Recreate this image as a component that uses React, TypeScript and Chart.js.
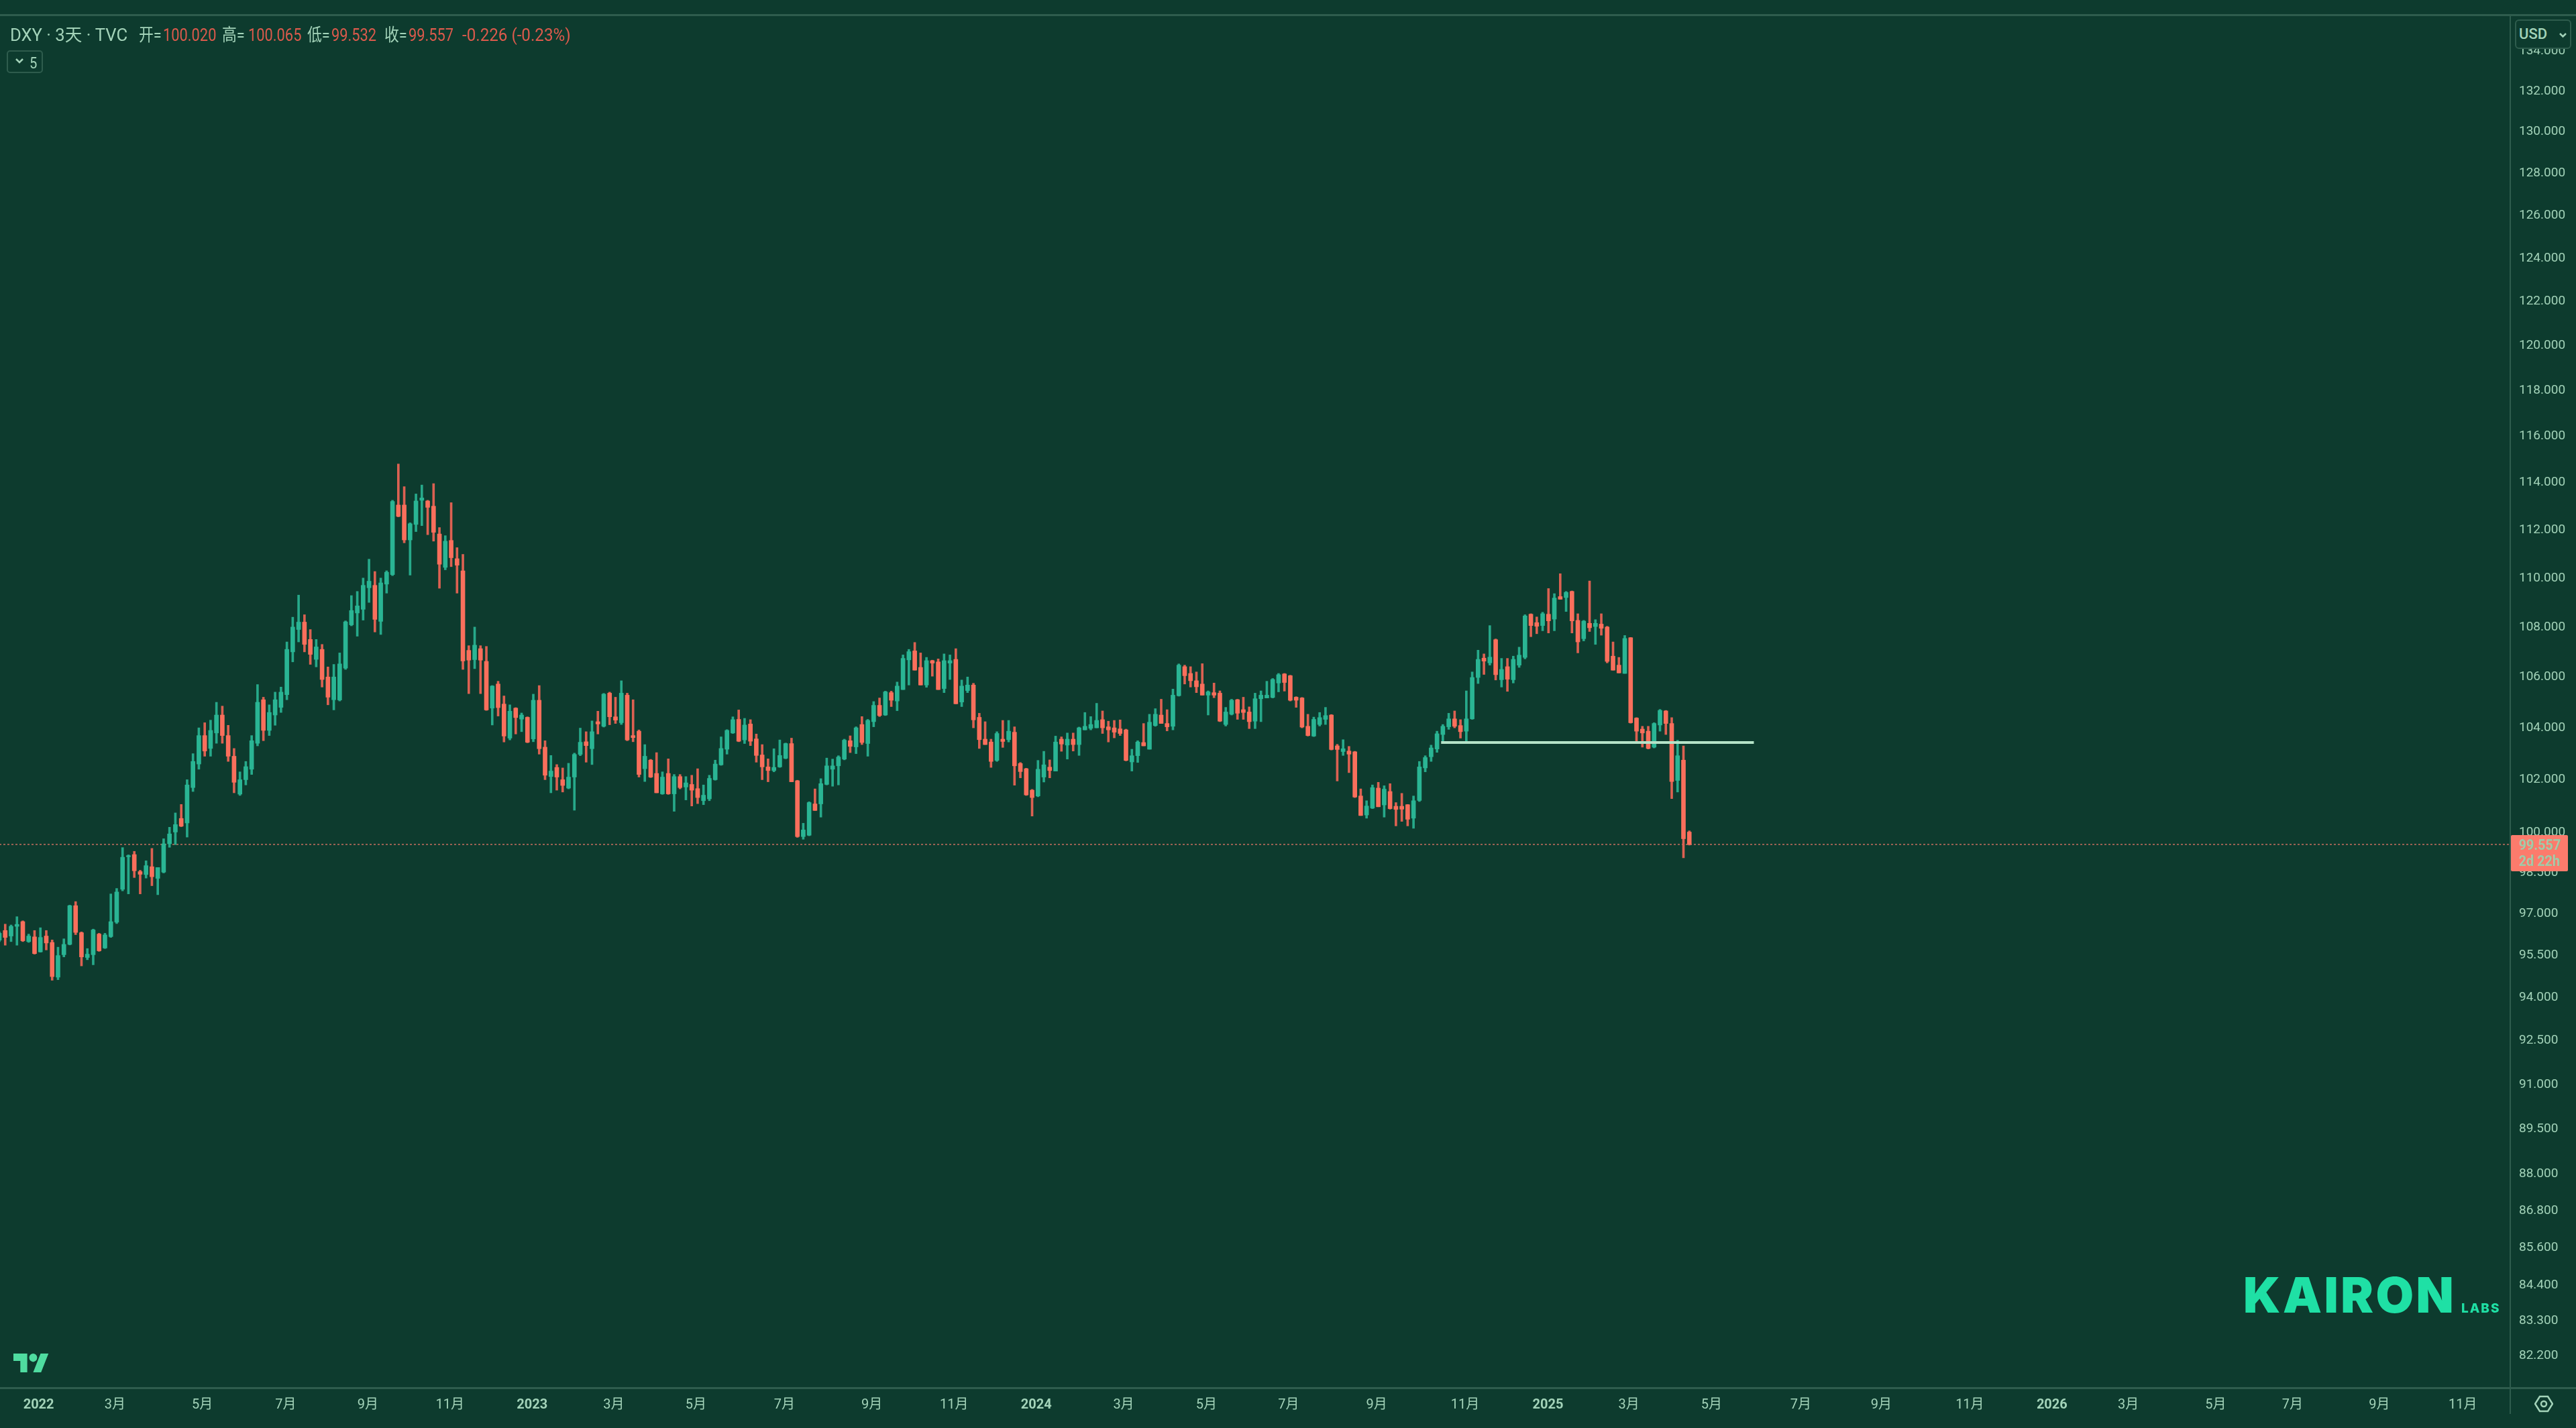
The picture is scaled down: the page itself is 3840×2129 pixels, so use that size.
import { useEffect, useRef } from 'react';
import Chart from 'chart.js/auto';

// 3D DXY candles, one entry per bar
const opens = [
  96.05, 96.4, 96.2, 96.55, 96.72, 96.0, 96.17, 95.63, 96.2, 95.97,
  94.73, 95.53, 95.9, 97.3, 96.32, 95.43, 95.53, 96.27, 95.77, 96.18,
  96.7, 97.9, 99.1, 99.18, 98.55, 98.44, 98.73, 98.3, 98.53, 99.58,
  100.02, 100.53, 100.36, 101.7, 102.6, 103.7, 103.2, 103.8, 104.5, 103.7,
  102.9, 101.45, 102.0, 102.4, 103.4, 105.1, 103.9, 104.5, 104.8, 105.3,
  107.0, 107.9, 108.2, 107.5, 106.7, 107.1, 106.0, 105.1, 105.09, 106.35,
  108.09, 108.57, 108.72, 109.6, 109.7, 108.23, 109.75, 110.14, 113.05, 113.05,
  111.58, 112.23, 113.25, 113.22, 113.0, 111.83, 110.44, 111.56, 110.8, 110.3,
  107.06, 106.69, 107.13, 106.62, 104.77, 105.72, 104.93, 103.6, 104.77, 104.34,
  104.41, 103.57, 105.08, 103.25, 102.12, 102.47, 102.0, 101.68, 102.1, 102.97,
  103.46, 103.19, 104.24, 104.06, 105.36, 104.43, 104.2, 105.28, 103.7, 103.87,
  102.42, 102.75, 102.24, 101.46, 102.24, 101.46, 102.12, 101.72, 101.82, 101.66,
  101.2, 101.27, 102.0, 102.57, 103.17, 103.8, 104.33, 103.53, 104.15, 103.57,
  102.95, 102.49, 102.35, 102.49, 102.82, 103.39, 101.96, 99.85, 99.9, 101.08,
  101.08, 101.82, 102.4, 102.53, 102.79, 103.5, 103.26, 104.13, 103.39, 104.24,
  104.88, 104.5, 105.38, 105.05, 105.5, 106.68, 107.04, 106.38, 105.68, 106.65,
  106.6, 105.54, 106.55, 106.7, 105.01, 105.46, 105.68, 104.41, 103.56, 103.45,
  102.74, 103.56, 103.54, 103.83, 102.62, 102.42, 101.6, 101.38, 102.1, 102.48,
  102.33, 103.56, 103.33, 103.56, 103.35, 103.92, 103.98, 104.0, 104.32, 104.04,
  104.0, 103.96, 103.92, 102.68, 102.92, 103.43, 103.17, 104.09, 104.5, 104.17,
  104.06, 105.26, 106.41, 106.14, 105.85, 105.72, 105.28, 105.38, 105.36, 104.13,
  104.53, 105.1, 104.71, 104.62, 104.26, 105.14, 105.17, 105.19, 105.76, 106.12,
  106.05, 105.2, 105.17, 104.06, 103.68, 104.13, 104.33, 104.5, 103.3, 103.08,
  103.1, 103.07, 101.38, 100.66, 100.92, 101.68, 101.04, 101.55, 100.99, 100.99,
  101.05, 100.54, 101.21, 102.45, 102.88, 103.18, 103.74, 104.04, 104.35, 104.09,
  103.87, 104.35, 105.98, 106.75, 106.56, 107.49, 105.89, 106.41, 105.89, 106.47,
  106.78, 108.52, 108.18, 108.06, 108.52, 108.32, 109.24, 109.2, 109.45, 108.27,
  107.53, 108.15, 108.02, 108.12, 108.0, 106.83, 106.47, 106.14, 107.57, 104.38,
  103.95, 103.87, 103.25, 104.11, 104.66, 104.17, 101.97, 102.75, 100.02,
];
const highs = [
  96.35, 96.63, 96.6, 96.9, 96.75, 96.27, 96.4, 96.5, 96.4, 96.06,
  95.8, 96.1, 97.32, 97.45, 96.35, 95.75, 96.45, 96.3, 96.3, 97.73,
  97.93, 99.44, 99.17, 99.3, 98.6, 98.95, 99.41, 98.7, 99.77, 100.2,
  100.74, 101.06, 102.0, 103.0, 104.0, 104.2, 104.3, 105.0, 104.85, 104.1,
  103.2, 102.3, 102.7, 103.7, 105.7, 105.2, 104.9, 105.4, 105.6, 107.4,
  108.4, 109.3, 108.5, 107.9, 107.5, 107.3, 106.4, 106.5, 106.96, 108.25,
  109.28, 109.45, 110.0, 110.78, 110.27, 110.0, 110.3, 113.25, 114.8, 113.83,
  112.3, 113.52, 113.9, 113.25, 113.96, 112.1, 111.76, 113.15, 111.26, 110.98,
  107.25, 108.0, 107.25, 107.22, 105.66, 105.83, 105.25, 104.9, 104.79, 104.58,
  104.43, 105.32, 105.66, 103.5, 102.93, 102.58, 102.45, 102.63, 103.02, 103.99,
  103.85, 104.27, 104.65, 105.35, 105.4, 105.2, 105.85, 105.36, 105.1, 103.92,
  103.35, 102.78, 103.04, 102.3, 102.8, 102.2, 102.2, 102.12, 102.17, 102.42,
  101.8, 102.17, 102.75, 103.65, 103.93, 104.43, 104.7, 104.37, 104.32, 103.76,
  103.35, 102.8, 103.19, 103.53, 103.41, 103.6, 101.98, 100.35, 101.16, 101.65,
  102.04, 102.83, 102.79, 102.92, 103.56, 103.69, 104.04, 104.44, 104.33, 105.03,
  105.17, 105.44, 105.44, 105.8, 106.88, 107.1, 107.38, 106.96, 106.78, 106.67,
  106.72, 106.92, 106.88, 107.13, 105.88, 106.0, 105.75, 104.57, 104.24, 103.56,
  103.85, 104.29, 104.29, 104.04, 102.66, 102.44, 101.63, 102.74, 103.09, 102.76,
  103.68, 103.65, 103.8, 103.8, 104.03, 104.6, 104.44, 104.96, 104.66, 104.26,
  104.29, 104.31, 103.95, 103.17, 103.5, 104.17, 104.53, 104.75, 105.12, 104.71,
  105.52, 106.52, 106.47, 106.41, 106.2, 106.53, 105.45, 105.76, 105.45, 104.8,
  105.12, 105.12, 105.2, 104.82, 105.36, 105.45, 105.83, 105.94, 106.14, 106.14,
  106.07, 105.22, 105.19, 104.53, 104.42, 104.6, 104.8, 104.52, 103.36, 103.54,
  103.28, 103.09, 101.65, 101.2, 101.8, 101.9, 101.77, 101.85, 101.13, 101.48,
  101.06, 101.38, 102.7, 102.92, 103.33, 103.87, 104.13, 104.57, 104.66, 104.32,
  105.45, 106.2, 107.07, 106.92, 108.06, 107.52, 106.74, 106.74, 106.83, 107.19,
  108.5, 108.54, 108.41, 108.6, 109.57, 109.36, 110.18, 109.45, 109.47, 108.54,
  108.27, 109.88, 108.3, 108.54, 108.03, 107.4, 106.78, 107.66, 107.58, 104.4,
  104.06, 104.06, 104.2, 104.72, 104.68, 104.4, 103.52, 103.3, 100.065,
];
const lows = [
  96.0, 95.87, 96.0, 95.87, 96.0, 95.97, 95.55, 95.62, 95.7, 94.62,
  94.64, 95.45, 95.88, 96.25, 95.13, 95.35, 95.17, 95.65, 95.75, 96.15,
  96.65, 97.84, 97.73, 98.33, 97.73, 98.31, 98.03, 97.7, 98.5, 99.45,
  99.55, 100.22, 99.83, 101.55, 102.4, 102.9, 102.9, 103.4, 103.4, 102.7,
  101.5, 101.4, 101.8, 102.2, 103.3, 103.5, 103.7, 104.1, 104.6, 105.1,
  106.6, 107.4, 107.0, 106.5, 106.4, 105.6, 104.9, 104.7, 105.05, 106.3,
  108.05, 107.63, 108.28, 109.0, 107.8, 107.7, 109.38, 110.1, 112.55, 111.46,
  110.12, 111.93, 112.18, 111.8, 111.53, 109.58, 110.34, 110.47, 109.38, 106.3,
  105.34, 106.33, 105.34, 104.68, 104.11, 104.46, 103.45, 103.53, 103.76, 103.85,
  103.42, 103.46, 102.98, 102.0, 101.5, 101.6, 101.53, 101.65, 100.84, 102.92,
  102.67, 102.58, 103.76, 104.03, 104.12, 104.17, 104.13, 103.5, 103.46, 102.1,
  101.93, 102.08, 101.5, 101.44, 101.44, 100.8, 101.65, 101.23, 101.0, 101.09,
  101.05, 101.2, 101.98, 102.55, 102.98, 103.78, 103.46, 103.39, 103.31, 102.67,
  102.0, 101.92, 102.3, 102.47, 102.8, 101.92, 99.82, 99.75, 99.88, 100.83,
  100.58, 101.8, 101.75, 101.8, 102.76, 103.04, 103.0, 103.35, 102.9, 104.04,
  104.44, 104.48, 104.83, 104.67, 105.5, 105.68, 106.27, 105.68, 105.59, 106.03,
  105.5, 105.38, 105.9, 104.94, 104.83, 105.38, 104.0, 103.2, 103.35, 102.47,
  102.7, 103.24, 103.45, 101.79, 102.07, 101.4, 100.62, 101.35, 101.91, 102.07,
  102.33, 103.09, 102.79, 103.1, 102.93, 103.92, 103.92, 104.0, 103.78, 103.45,
  103.61, 103.7, 102.72, 102.33, 102.66, 103.3, 103.17, 104.06, 104.17, 103.88,
  103.92, 105.24, 105.72, 105.6, 105.38, 105.28, 104.5, 105.18, 104.24, 104.07,
  104.5, 104.33, 104.33, 103.97, 103.97, 104.24, 105.17, 105.17, 105.41, 105.44,
  105.05, 104.8, 104.0, 103.68, 103.66, 104.07, 104.13, 103.14, 101.95, 102.93,
  102.27, 101.32, 100.64, 100.54, 100.9, 100.97, 100.58, 100.88, 100.25, 100.42,
  100.25, 100.16, 101.17, 102.3, 102.7, 103.05, 103.43, 103.94, 104.0, 103.6,
  103.4, 104.33, 105.74, 106.1, 106.47, 105.88, 105.6, 105.43, 105.76, 106.38,
  106.72, 107.61, 107.73, 107.85, 107.76, 107.85, 109.13, 108.63, 107.76, 106.96,
  107.44, 107.82, 107.3, 107.67, 106.56, 106.27, 106.16, 106.14, 104.18, 103.43,
  103.25, 103.18, 103.22, 103.87, 103.74, 101.28, 101.53, 99.06, 99.532,
];
const closes = [
  96.3, 96.15, 96.55, 96.62, 96.03, 96.2, 95.57, 96.15, 95.95, 94.75,
  95.5, 95.9, 97.3, 96.33, 95.45, 95.55, 96.42, 95.67, 96.24, 96.72,
  97.8, 99.08, 99.14, 98.58, 98.45, 98.77, 98.36, 98.7, 99.58, 99.95,
  100.3, 100.24, 101.8, 102.7, 103.7, 103.1, 103.9, 104.5, 103.7, 102.9,
  101.9, 102.0, 102.5, 103.5, 105.0, 103.9, 104.6, 105.1, 105.4, 107.1,
  108.0, 108.2, 107.3, 106.9, 107.2, 105.9, 105.2, 106.0, 106.52, 108.21,
  108.67, 108.86, 109.7, 109.87, 108.31, 109.8, 110.24, 113.2, 112.57, 111.58,
  112.26, 113.22, 113.35, 112.95, 111.9, 110.57, 111.53, 110.84, 110.53, 106.64,
  106.67, 107.27, 106.67, 104.7, 105.64, 104.79, 103.68, 104.65, 104.4, 104.5,
  103.44, 105.08, 103.19, 102.17, 102.33, 102.1, 101.78, 102.1, 102.97, 103.44,
  103.31, 103.85, 104.15, 105.32, 104.43, 104.3, 105.36, 103.53, 103.62, 102.2,
  102.9, 102.1, 101.5, 102.1, 101.46, 102.12, 101.7, 101.88, 101.6, 101.32,
  101.41, 102.05, 102.6, 103.2, 103.9, 104.32, 103.48, 104.11, 103.48, 102.93,
  102.49, 102.35, 102.47, 102.93, 103.39, 101.92, 99.85, 100.1, 101.13, 100.83,
  101.85, 102.53, 102.53, 102.87, 103.52, 103.28, 104.0, 103.43, 104.29, 104.88,
  104.48, 105.41, 105.08, 105.64, 106.74, 107.01, 106.27, 105.68, 106.65, 106.55,
  105.5, 106.65, 106.65, 104.94, 105.64, 105.68, 104.31, 103.54, 103.35, 102.7,
  103.78, 103.47, 103.87, 102.53, 102.31, 101.42, 101.32, 102.4, 102.57, 102.35,
  103.45, 103.37, 103.56, 103.35, 104.0, 104.06, 104.13, 104.29, 104.0, 103.92,
  103.83, 103.78, 102.74, 102.92, 103.45, 103.3, 104.22, 104.53, 104.17, 104.04,
  105.28, 106.47, 106.05, 105.85, 105.61, 105.28, 105.41, 105.28, 104.26, 104.62,
  105.08, 104.57, 104.6, 104.24, 105.14, 105.28, 105.28, 105.9, 106.09, 105.78,
  105.08, 105.08, 104.03, 103.7, 104.33, 104.4, 104.48, 103.16, 103.16, 103.19,
  102.98, 101.34, 100.64, 101.0, 101.7, 100.97, 101.64, 100.9, 100.87, 100.88,
  100.5, 101.2, 102.49, 102.85, 103.22, 103.77, 104.06, 104.35, 104.06, 103.85,
  104.35, 105.98, 106.7, 106.63, 106.79, 106.09, 106.3, 105.91, 106.7, 106.87,
  108.45, 108.06, 108.03, 108.54, 108.25, 109.18, 109.13, 109.41, 108.25, 107.4,
  108.24, 107.97, 108.15, 107.95, 106.62, 106.27, 106.16, 107.54, 104.2, 103.87,
  103.8, 103.2, 104.17, 104.68, 104.17, 101.93, 102.92, 99.77, 99.557,
];

const lastPrice = 99.557;
const levelPrice = 103.43;
const levelBars = [245.7, 299];

const priceTicks = [
  134, 132, 130, 128, 126, 124, 122, 120, 118, 116, 114, 112, 110, 108, 106, 104, 102, 100,
  98.5, 97, 95.5, 94, 92.5, 91, 89.5, 88, 86.8, 85.6, 84.4, 83.3, 82.2,
];
const timeTickBars = [
  6.7, 19.7, 34.6, 48.8, 62.8, 76.8, 90.8, 104.7, 118.7, 133.8, 148.7, 162.7, 176.7, 191.6, 205.7,
  219.7, 234.7, 249.8, 263.9, 277.7, 291.8, 307, 320.7, 335.8, 349.8, 362.8, 377.7, 390.8, 405.6, 419.8,
];
const timeTickLabels = [
  '2022', '3月', '5月', '7月', '9月', '11月', '2023', '3月', '5月', '7月', '9月', '11月', '2024', '3月', '5月',
  '7月', '9月', '11月', '2025', '3月', '5月', '7月', '9月', '11月', '2026', '3月', '5月', '7月', '9月', '11月',
];

const BG = '#0d3b2e';
const LINE = '#2e5c4d';
const TEXT = '#a3d3b9';
const RED = '#fa6f5c';
const RED_WICK = '#dc6152';
const GREEN = '#2ab594';
const GREEN_WICK = '#27a98a';
const SANS = 'Roboto, "Noto Sans CJK SC", sans-serif';

const framePlugin = {
  id: 'frame',
  beforeDraw(chart: any) {
    const { ctx, width, height } = chart;
    ctx.save();
    ctx.fillStyle = BG;
    ctx.fillRect(0, 0, width, height);
    ctx.fillStyle = LINE;
    ctx.fillRect(0, 21, width, 3);
    ctx.fillRect(0, 2068, width, 3);
    ctx.fillRect(3741, 22, 2, 2086);
    ctx.restore();
  },
};

const Txt = ({ x, y, color = TEXT, size = 26, squeeze = 0.84, children, style }: any) => (
  <span
    style={{
      position: 'absolute',
      left: x,
      top: y,
      color,
      fontFamily: SANS,
      fontSize: size,
      lineHeight: 1,
      whiteSpace: 'nowrap',
      transform: `scaleX(${squeeze})`,
      transformOrigin: 'left center',
      ...style,
    }}
  >
    {children}
  </span>
);

const App = () => {
  const canvasRef = useRef<HTMLCanvasElement>(null);

  useEffect(() => {
    document.body.style.margin = '0';
    document.body.style.background = BG;
    if (!canvasRef.current) return;

    const isUp = opens.map((o, i) => closes[i] >= o);
    const chart = new Chart(canvasRef.current, {
      type: 'bar',
      data: {
        datasets: [
          {
            type: 'line',
            data: [
              { x: 0, y: lastPrice },
              { x: 428, y: lastPrice },
            ],
            borderColor: 'rgba(250,125,108,0.6)',
            borderWidth: 2,
            borderDash: [3, 3],
            pointRadius: 0,
            order: 3,
          },
          {
            data: lows.map((l, i) => ({ x: i, y: [l, highs[i]] })),
            backgroundColor: isUp.map((u) => (u ? GREEN_WICK : RED_WICK)),
            barThickness: 3,
            grouped: false,
            order: 2,
          },
          {
            data: opens.map((o, i) => ({ x: i, y: [o, closes[i]] })),
            backgroundColor: isUp.map((u) => (u ? GREEN : RED)),
            barThickness: 6,
            grouped: false,
            order: 1,
          },
          {
            type: 'line',
            data: levelBars.map((b) => ({ x: b, y: levelPrice })),
            borderColor: '#b5e3c8',
            borderWidth: 4,
            pointRadius: 0,
            order: 0,
          },
        ] as any,
      },
      options: {
        animation: false,
        responsive: false,
        devicePixelRatio: 1,
        layout: { padding: { top: 22 } },
        plugins: { legend: { display: false }, tooltip: { enabled: false } },
        scales: {
          x: {
            type: 'linear',
            offset: false,
            min: 0.114,
            max: 427.9,
            grid: { display: false },
            border: { display: false },
            afterBuildTicks: (axis: any) => {
              axis.ticks = timeTickBars.map((value) => ({ value }));
            },
            afterFit: (axis: any) => {
              axis.height = 60;
              axis.paddingLeft = 0;
              axis.paddingRight = 0;
            },
            ticks: {
              autoSkip: false,
              maxRotation: 0,
              padding: 6,
              color: TEXT,
              callback: (_v: any, i: number) => timeTickLabels[i],
              font: (ctx: any) => ({
                family: SANS,
                size: 20,
                weight: /^\d{4}$/.test(timeTickLabels[ctx.index] || '') ? 'bold' : 'normal',
              }),
            },
          },
          y: {
            type: 'logarithmic',
            position: 'right',
            min: 81.23,
            max: 135.83,
            grid: { display: false },
            border: { display: false },
            afterBuildTicks: (axis: any) => {
              axis.ticks = priceTicks.map((value) => ({ value }));
            },
            afterFit: (axis: any) => {
              axis.width = 98;
              axis.paddingTop = 0;
              axis.paddingBottom = 0;
            },
            ticks: {
              autoSkip: false,
              padding: 5,
              color: TEXT,
              font: { family: SANS, size: 19 },
              callback: (v: any) => Number(v).toFixed(3),
            },
          },
        },
      } as any,
      plugins: [framePlugin],
    });

    return () => {
      chart.destroy();
    };
  }, []);

  return (
    <div style={{ position: 'relative', width: 3840, height: 2129, overflow: 'hidden', background: BG }}>
      <canvas ref={canvasRef} width={3840} height={2129} style={{ display: 'block' }} />

      <Txt x={15} y={39} squeeze={0.985}>DXY · 3天 · TVC</Txt>
      <Txt x={207} y={39}>开=</Txt>
      <Txt x={243} y={39} color="#dc5a4c">100.020</Txt>
      <Txt x={331} y={39}>高=</Txt>
      <Txt x={370} y={39} color="#dc5a4c">100.065</Txt>
      <Txt x={458} y={39}>低=</Txt>
      <Txt x={494} y={39} color="#dc5a4c">99.532</Txt>
      <Txt x={573} y={39}>收=</Txt>
      <Txt x={609} y={39} color="#dc5a4c">99.557</Txt>
      <Txt x={689} y={39} squeeze={0.93} color="#dc5a4c">-0.226 (-0.23%)</Txt>

      <div
        style={{
          position: 'absolute', left: 10, top: 75, width: 54, height: 34,
          border: `2px solid ${LINE}`, borderRadius: 5, boxSizing: 'border-box',
        }}
      />
      <svg style={{ position: 'absolute', left: 22, top: 86 }} width="14" height="10" viewBox="0 0 14 10">
        <path d="M2 2l5 5 5-5" fill="none" stroke={TEXT} strokeWidth="2.5" />
      </svg>
      <Txt x={44} y={82} size={24}>5</Txt>

      <div
        style={{
          position: 'absolute', left: 3749, top: 29, width: 84, height: 44, background: BG,
          border: `2px solid ${LINE}`, borderRadius: 6, boxSizing: 'border-box',
        }}
      />
      <Txt x={3755} y={40} size={22} squeeze={1} style={{ fontWeight: 500 }}>USD</Txt>
      <svg style={{ position: 'absolute', left: 3814, top: 48 }} width="13" height="9" viewBox="0 0 13 9">
        <path d="M2 2l4.5 4.5L11 2" fill="none" stroke={TEXT} strokeWidth="2.5" />
      </svg>

      <div style={{ position: 'absolute', left: 3743, top: 1245, width: 85, height: 54, background: '#fc7b6c', borderRadius: 2 }} />
      <Txt x={3755} y={1249} size={22} squeeze={0.9} color="#9fc9a8" style={{ fontWeight: 700 }}>99.557</Txt>
      <Txt x={3755} y={1273} size={22} squeeze={0.9} color="#9fc9a8" style={{ fontWeight: 700 }}>2d 22h</Txt>

      <svg style={{ position: 'absolute', left: 20, top: 2018 }} width="53" height="28" viewBox="0 0 36 18" preserveAspectRatio="none">
        <path d="M14 18H7V7H0V0h14v18zM28 18h-8L27.500 0h8L28 18z" fill="#4fdca0" />
        <circle cx="20" cy="4" r="4" fill="#4fdca0" />
      </svg>

      <Txt x={3344} y={1894} size={73} squeeze={1} color="#1fe0a5" style={{ fontFamily: 'Inter', fontWeight: 900, letterSpacing: 3.5 }}>KAIRON</Txt>
      <Txt x={3669} y={1941} size={19} squeeze={1} color="#1fe0a5" style={{ fontFamily: 'Inter', fontWeight: 800, letterSpacing: 2 }}>LABS</Txt>

      <svg style={{ position: 'absolute', left: 3778, top: 2079 }} width="28" height="28" viewBox="0 0 28 28">
        <path d="M8 3h12l7 11-7 11H8L1 14z" fill="none" stroke={TEXT} strokeWidth="2.5" />
        <circle cx="14" cy="14" r="4" fill="none" stroke={TEXT} strokeWidth="2.5" />
      </svg>
    </div>
  );
};

export default App;
